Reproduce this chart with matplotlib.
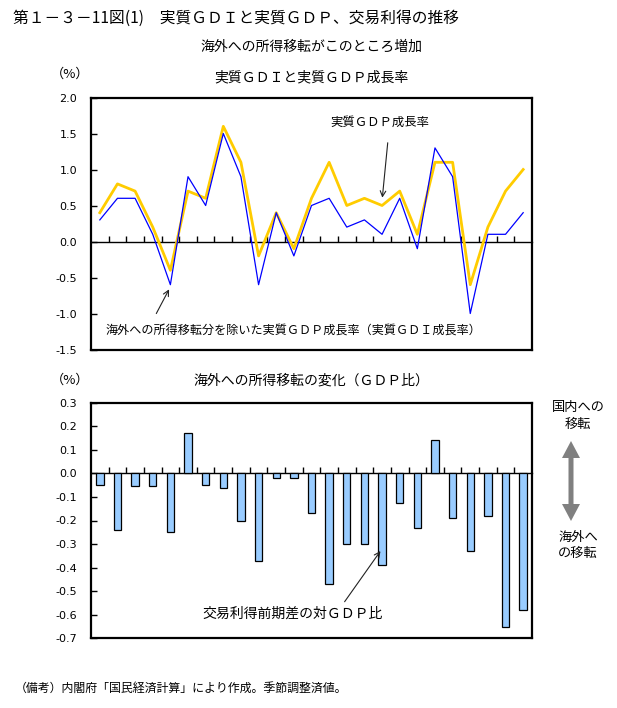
import numpy as np
import matplotlib
matplotlib.use("Agg")
import matplotlib.pyplot as plt
from matplotlib.patches import FancyArrow

plt.rcParams['font.family'] = ['Noto Sans CJK JP', 'DejaVu Sans']

# ---- data ----
quarters = list(range(25))
gdp_growth = [0.4, 0.8, 0.7, 0.2, -0.4, 0.7, 0.6, 1.6, 1.1, -0.2, 0.4, -0.1, 0.6,
              1.1, 0.5, 0.6, 0.5, 0.7, 0.1, 1.1, 1.1, -0.6, 0.2, 0.7, 1.0]
gdi_growth = [0.3, 0.6, 0.6, 0.1, -0.6, 0.9, 0.5, 1.5, 0.9, -0.6, 0.4, -0.2, 0.5,
              0.6, 0.2, 0.3, 0.1, 0.6, -0.1, 1.3, 0.9, -1.0, 0.1, 0.1, 0.4]
transfer = [-0.05, -0.24, -0.055, -0.055, -0.25, 0.17, -0.05, -0.06, -0.20, -0.37,
            -0.02, -0.02, -0.17, -0.47, -0.30, -0.30, -0.39, -0.125, -0.23, 0.14,
            -0.19, -0.33, -0.18, -0.65, -0.58]
top_yticks = [2.0, 1.5, 1.0, 0.5, 0.0, -0.5, -1.0, -1.5]
bot_yticks = [0.3, 0.2, 0.1, 0.0, -0.1, -0.2, -0.3, -0.4, -0.5, -0.6, -0.7]

W, H = 617, 708
fig = plt.figure(figsize=(W / 100, H / 100), dpi=100)

def box(l, t, r, b):
    return [l / W, 1 - b / H, (r - l) / W, (b - t) / H]

def style(ax, yticks):
    n = len(quarters)
    ax.set_xlim(-0.5, n - 0.5)
    ax.set_ylim(min(yticks), max(yticks))
    ax.set_yticks(yticks)
    ax.set_yticklabels([f"{v:.1f}" for v in yticks], fontsize=8, family='DejaVu Sans')
    ax.tick_params(axis='y', direction='in', length=4, width=1, pad=10)
    ax.set_xticks([])
    for s in ax.spines.values():
        s.set_linewidth(1.6)
    sec = ax.secondary_xaxis(0, transform=ax.transData)
    sec.set_xticks(np.arange(1, n) - 0.5)
    sec.tick_params(direction='in', length=4, width=1, labelbottom=False)
    sec.spines['bottom'].set_linewidth(1.0)

# ---- top chart ----
ax1 = fig.add_axes(box(91, 97.5, 532, 349.5))
style(ax1, top_yticks)
ax1.plot(quarters, gdp_growth, color='#FFCC00', lw=2.0, zorder=3)
ax1.plot(quarters, gdi_growth, color='#0000FF', lw=0.9, zorder=4)

# ---- bottom chart ----
ax2 = fig.add_axes(box(91, 402.7, 532, 638.3))
style(ax2, bot_yticks)
ax2.bar(quarters, transfer, width=0.42, color='#99CCFF', edgecolor='black', lw=0.9, zorder=3)

# ---- overlay in pixel coordinates ----
ov = fig.add_axes([0, 0, 1, 1])
ov.set_xlim(0, W)
ov.set_ylim(H, 0)
ov.axis('off')
ov.patch.set_alpha(0)

ov.text(13, 18, "第１－３－11図(1)　実質ＧＤＩと実質ＧＤＰ、交易利得の推移", fontsize=11.3, va='center', ha='left')
ov.text(311, 47, "海外への所得移転がこのところ増加", fontsize=10, va='center', ha='center')
ov.text(70, 74, "（%）", fontsize=9.5, va='center', ha='center')
ov.text(311, 77, "実質ＧＤＩと実質ＧＤＰ成長率", fontsize=10, va='center', ha='center')
ov.text(70, 380, "（%）", fontsize=9.5, va='center', ha='center')
ov.text(311, 381, "海外への所得移転の変化（ＧＤＰ比）", fontsize=10, va='center', ha='center')
ov.text(15, 688, "（備考）内閣府「国民経済計算」により作成。季節調整済値。", fontsize=8.6, va='center', ha='left')

ov.text(380, 122, "実質ＧＤＰ成長率", fontsize=8.9, va='center', ha='center')
ov.text(105, 330, "海外への所得移転分を除いた実質ＧＤＰ成長率（実質ＧＤＩ成長率）", fontsize=8.7, va='center', ha='left')
ov.text(202, 614, "交易利得前期差の対ＧＤＰ比", fontsize=10, va='center', ha='left')

arrow_kw = dict(arrowstyle='->,head_length=0.4,head_width=0.2', color='#222222', lw=0.8)
ax1.annotate("", xy=(16, gdp_growth[16] + 0.07), xytext=(388, 140),
             textcoords=ov.transData, arrowprops=arrow_kw)
ax1.annotate("", xy=(4, gdi_growth[4] - 0.03), xytext=(155, 316),
             textcoords=ov.transData, arrowprops=arrow_kw)
ax2.annotate("", xy=(16, -0.32), xytext=(343, 604),
             textcoords=ov.transData, arrowprops=arrow_kw)

# right side legend arrow
ov.text(578, 407, "国内への", fontsize=9.5, va='center', ha='center')
ov.text(578, 424, "移転", fontsize=9.5, va='center', ha='center')
ov.text(578, 537, "海外へ", fontsize=9.5, va='center', ha='center')
ov.text(578, 553, "の移転", fontsize=9.5, va='center', ha='center')
ov.add_patch(FancyArrow(571, 481, 0, -40, width=5, head_width=18, head_length=17,
                        length_includes_head=True, color='#808080', lw=0))
ov.add_patch(FancyArrow(571, 481, 0, 40, width=5, head_width=18, head_length=17,
                        length_includes_head=True, color='#808080', lw=0))

fig.savefig("out.png", dpi=100)
